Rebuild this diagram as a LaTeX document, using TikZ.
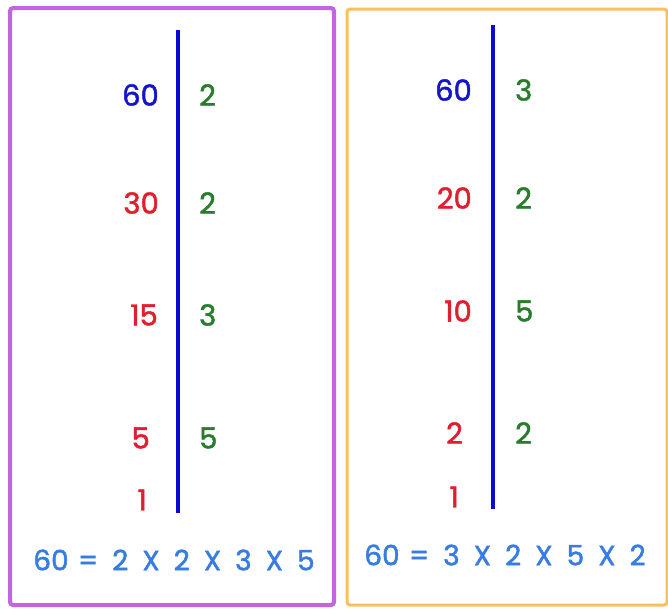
\documentclass[tikz,border=0pt]{standalone}
\usepackage{fontspec}
\setmainfont[FakeBold=1.6]{Poppins}
\usepackage{tikz}
\usetikzlibrary{positioning}

\definecolor{numblue}{RGB}{20,20,200}
\definecolor{numred}{RGB}{225,30,45}
\definecolor{numgreen}{RGB}{40,125,45}
\definecolor{eqblue}{RGB}{55,125,225}
\definecolor{barblue}{RGB}{10,10,215}
\definecolor{framepurple}{RGB}{195,100,225}
\definecolor{frameorange}{RGB}{250,190,95}

\begin{document}
\begin{tikzpicture}[
    x=1pt, y=-1pt,
    num/.style={inner sep=0pt, anchor=east, font=\fontsize{29}{34}\selectfont},
    fac/.style={inner sep=0pt, anchor=west, text=numgreen, font=\fontsize{29}{34}\selectfont},
    eq/.style={inner sep=0pt, text=eqblue, font=\fontsize{28}{33}\selectfont},
    bar/.style={draw=barblue, line width=3.2pt},
    frame/.style={line width=4pt, rounded corners=3pt}
]
\useasboundingbox (0,0) rectangle (668,608);

% frames
\draw[frame, draw=framepurple] (10,8) rectangle (334,605);
\draw[frame, draw=frameorange, line width=3pt] (347,9) rectangle (667,605);

% left division: 60 = 2 x 2 x 3 x 5
\coordinate (ltop) at (178,30);
\coordinate (lbot) at (178,513);
\draw[bar] (ltop) -- (lbot);

\node[num, text=numblue] (l60) at (159,95)  {60};
\node[num, text=numred]  (l30) at (159,203) {30};
\node[num, text=numred]  (l15) at (158,315) {15};
\node[num, text=numred]  (l5)  at (150,438) {5};
\node[num, text=numred]  (l1)  at (147,500) {1};

\node[fac] (lf1) at (199,95)  {2};
\node[fac] (lf2) at (199,203) {2};
\node[fac] (lf3) at (199,315) {3};
\node[fac] (lf4) at (199,438) {5};

\node[eq] (leq) at (174,560) {60\,\,=\,\,\,2\,\,\,X\,\,\,2\,\,\,X\,\,\,3\,\,\,X\,\,\,5};

% right division: 60 = 3 x 2 x 5 x 2
\coordinate (rtop) at (493,25);
\coordinate (rbot) at (493,509);
\draw[bar] (rtop) -- (rbot);

\node[num, text=numblue] (r60) at (472,90)  {60};
\node[num, text=numred]  (r20) at (472,198) {20};
\node[num, text=numred]  (r10) at (472,311) {10};
\node[num, text=numred]  (r2)  at (463,433) {2};
\node[num, text=numred]  (r1)  at (459,497) {1};

\node[fac] (rf1) at (515,90)  {3};
\node[fac] (rf2) at (515,198) {2};
\node[fac] (rf3) at (515,311) {5};
\node[fac] (rf4) at (515,433) {2};

\node[eq] (req) at (505,555) {60\,\,=\,\,\,3\,\,\,X\,\,\,2\,\,\,X\,\,\,5\,\,\,X\,\,\,2};
\end{tikzpicture}
\end{document}
